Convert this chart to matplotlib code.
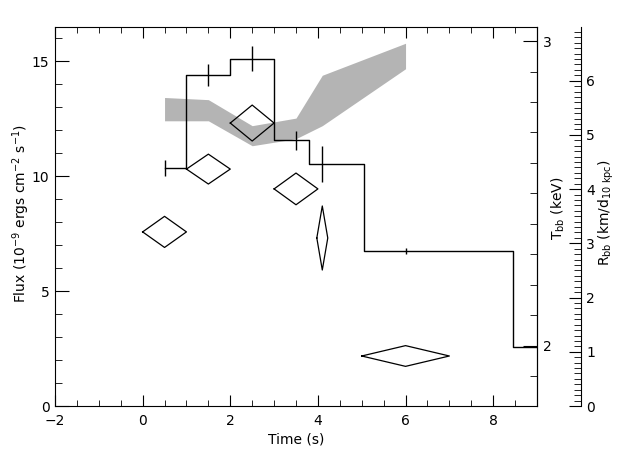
import numpy as np
import matplotlib
import matplotlib.pyplot as plt
from matplotlib.ticker import MultipleLocator

matplotlib.use('agg')
plt.rcParams['font.family'] = 'DejaVu Sans'
plt.rcParams['mathtext.default'] = 'regular'

# flux light curve (histogram, psym=10 style)
flux_time = [0.5, 1.5, 2.5, 3.5, 4.1, 6.0, 10.9]
flux_val = [10.35, 14.4, 15.1, 11.55, 10.52, 6.74, 2.57]
flux_err = [0.35, 0.48, 0.55, 0.40, 0.80, 0.15, 0.15]

# blackbody temperature (diamonds, right axis)
t_time = [0.5, 1.5, 2.5, 3.5, 4.1, 6.0]
t_time_err = [0.5, 0.5, 0.5, 0.5, 0.125, 1.0]
t_val = [2.374, 2.580, 2.731, 2.515, 2.354, 1.967]
t_err = [0.051, 0.049, 0.059, 0.052, 0.105, 0.034]

# blackbody radius band (grey, outer right axis)
r_time = [0.5, 1.5, 2.5, 3.5, 4.1, 6.0]
r_low = [5.26, 5.26, 4.80, 4.93, 5.17, 6.22]
r_high = [5.69, 5.65, 5.17, 5.31, 6.10, 6.69]

fig = plt.figure(figsize=(6.4, 4.57), dpi=100)
fig.patch.set_facecolor('white')
rect = [55/640, 51/457, 482/640, 379/457]

ax_r = fig.add_axes(rect)
ax = fig.add_axes(rect, sharex=ax_r)
ax_t = fig.add_axes(rect, sharex=ax_r)
for a, z in [(ax_r, 1), (ax, 2), (ax_t, 3)]:
    a.set_zorder(z)
    a.patch.set_visible(False)

# radius band
ax_r.fill_between(r_time, r_low, r_high, color='#b4b4b4', lw=0)
ax_r.set_ylim(0, 6.99)
ax_r.yaxis.tick_right()
ax_r.yaxis.set_label_position('right')
for s in ['left', 'top', 'bottom']:
    ax_r.spines[s].set_visible(False)
ax_r.spines['right'].set_position(('axes', 1.091))
ax_r.yaxis.set_major_locator(MultipleLocator(1))
ax_r.yaxis.set_minor_locator(MultipleLocator(0.1))
ax_r.tick_params(axis='y', which='major', direction='in', length=9, pad=4, labelsize=10)
ax_r.tick_params(axis='y', which='minor', direction='in', length=5)
ax_r.tick_params(axis='x', which='both', bottom=False, top=False, labelbottom=False)

# flux histogram
ax.step(flux_time, flux_val, where='mid', color='k', lw=1)
ax.errorbar(flux_time, flux_val, yerr=flux_err, fmt='none', ecolor='k', elinewidth=1, capsize=0)
ax.set_xlim(-2, 9)
ax.set_ylim(0, 16.48)
ax.xaxis.set_major_locator(MultipleLocator(2))
ax.xaxis.set_minor_locator(MultipleLocator(0.5))
ax.yaxis.set_major_locator(MultipleLocator(5))
ax.yaxis.set_minor_locator(MultipleLocator(1))
ax.tick_params(axis='x', which='major', direction='in', top=True, length=8, pad=6, labelsize=10)
ax.tick_params(axis='x', which='minor', direction='in', top=True, length=4)
ax.tick_params(axis='y', which='major', direction='in', right=False, length=10, pad=4, labelsize=10)
ax.tick_params(axis='y', which='minor', direction='in', right=False, length=5)
ax.set_xlabel('Time (s)', fontsize=10, labelpad=3)
ax.text(-0.07, 0.509, r'Flux (10$^{-9}$ ergs cm$^{-2}$ s$^{-1}$)', transform=ax.transAxes,
        rotation=90, ha='center', va='center', fontsize=10)

# temperature diamonds
for c, dx, v, dv in zip(t_time, t_time_err, t_val, t_err):
    ax_t.plot([c - dx, c, c + dx, c, c - dx], [v, v + dv, v, v - dv, v], color='k', lw=0.9)
ax_t.set_ylim(1.803, 3.046)
ax_t.yaxis.tick_right()
for s in ['left', 'top', 'bottom']:
    ax_t.spines[s].set_visible(False)
ax_t.yaxis.set_major_locator(MultipleLocator(1))
ax_t.yaxis.set_minor_locator(MultipleLocator(0.1))
ax_t.yaxis.set_major_formatter(matplotlib.ticker.FormatStrFormatter('%d'))
ax_t.tick_params(axis='y', which='major', direction='in', length=10, pad=4, labelsize=10)
ax_t.tick_params(axis='y', which='minor', direction='in', length=5)
ax_t.tick_params(axis='x', which='both', bottom=False, top=False, labelbottom=False)

ax.text(1.0436, 0.522, r'T$_{bb}$ (keV)', transform=ax.transAxes,
        rotation=90, ha='center', va='center', fontsize=10)
ax.text(1.143, 0.509, r'R$_{bb}$ (km/d$_{10\ kpc}$)', transform=ax.transAxes,
        rotation=90, ha='center', va='center', fontsize=10)

fig.savefig('out.png', dpi=100, facecolor='white')
